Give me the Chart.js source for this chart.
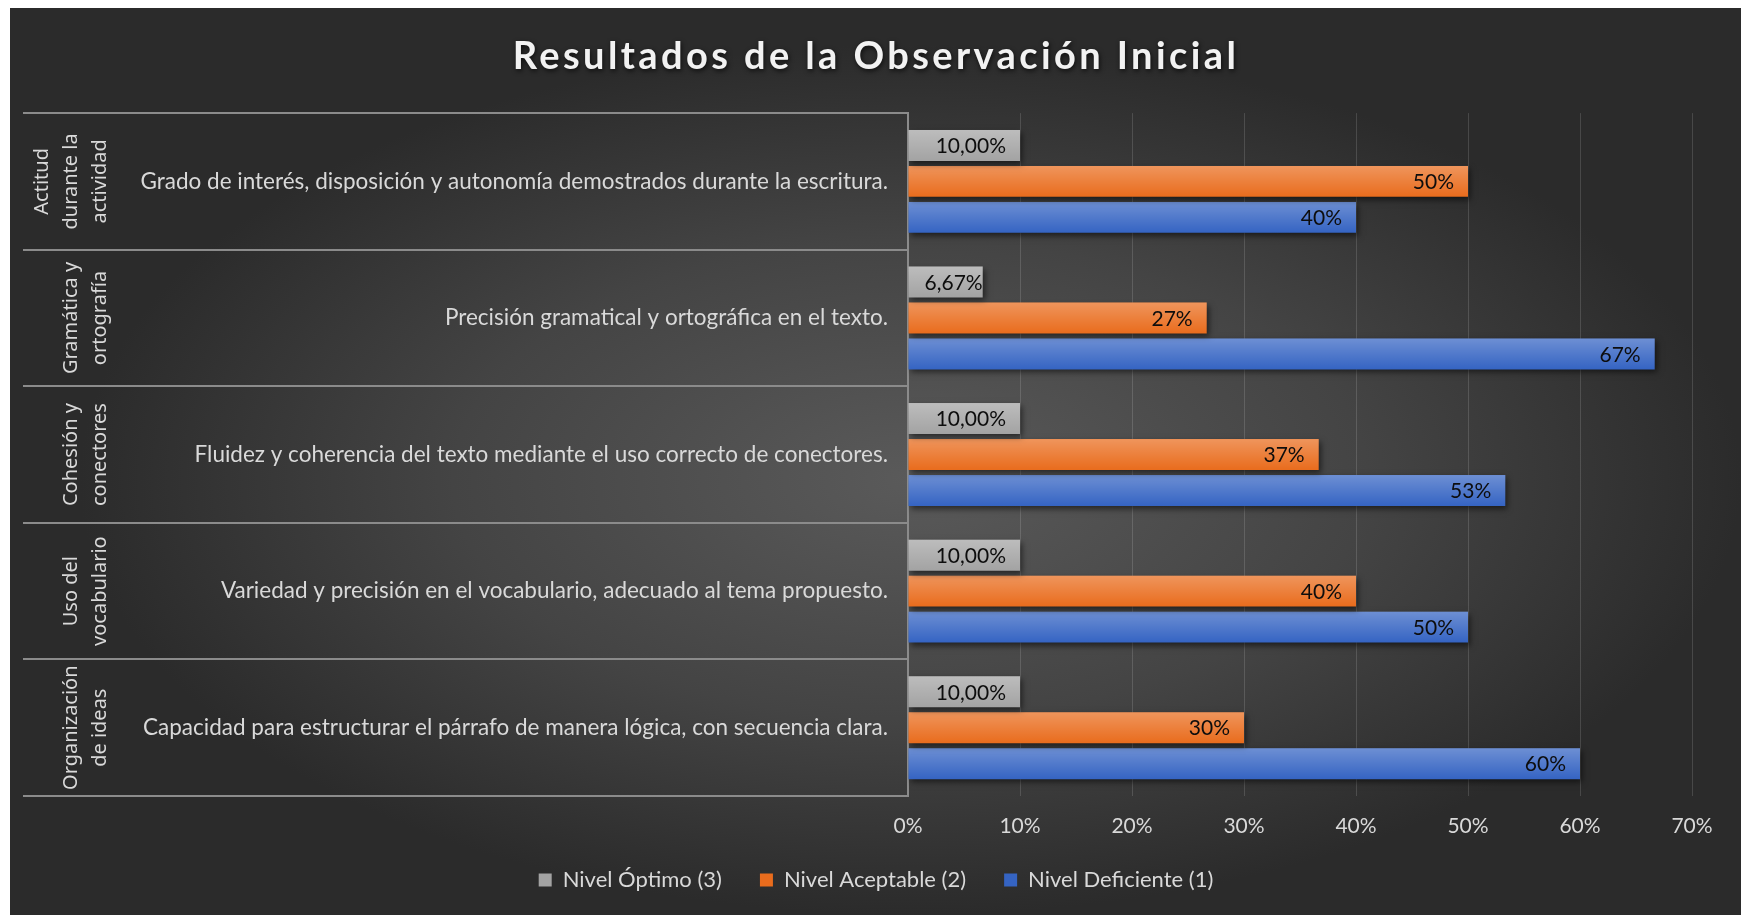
<!DOCTYPE html>
<html lang="es">
<head>
<meta charset="utf-8">
<title>Resultados de la Observación Inicial</title>
<script src="https://cdn.jsdelivr.net/npm/chart.js@4.4.1/dist/chart.umd.min.js"></script>
<style>
  html, body { margin: 0; padding: 0; background: #ffffff; }
  #wrap { position: relative; width: 1741px; height: 915px; overflow: hidden; }
  #bg {
    position: absolute; left: 10px; top: 8px; right: 0; bottom: 0;
    background: radial-gradient(ellipse closest-side at 52% 52%, #5a5a5a 0%, #444444 55%, #2b2b2b 100%);
  }
  #chart { position: absolute; left: 0; top: 0; }
</style>
</head>
<body>
<div id="wrap">
  <div id="bg"></div>
  <canvas id="chart" width="1741" height="915"></canvas>
</div>
<script>
// criterios (nivel interno del eje) y dimensiones (nivel externo)
const criterios = [
  "Grado de interés, disposición y autonomía demostrados durante la escritura.",
  "Precisión gramatical y ortográfica en el texto.",
  "Fluidez y coherencia del texto mediante el uso correcto de conectores.",
  "Variedad y precisión en el vocabulario, adecuado al tema propuesto.",
  "Capacidad para estructurar el párrafo de manera lógica, con secuencia clara.",
];
const dimensiones = [
  ["Actitud", "durante la", "actividad"],
  ["Gramática y", "ortografía"],
  ["Cohesión y", "conectores"],
  ["Uso del", "vocabulario"],
  ["Organización", "de ideas"],
];

const seriesNames = ["Nivel Óptimo (3)", "Nivel Aceptable (2)", "Nivel Deficiente (1)"];
const nivelOptimo = [10, 6.67, 10, 10, 10];
const nivelAceptable = [50, 26.67, 36.67, 40, 30];
const nivelDeficiente = [40, 66.67, 53.33, 50, 60];

const xMin = 0;
const xMax = 70;
const xStep = 10;

const colors = ["#a3a3a3", "#e96c1d", "#3564c3"];
const textColor = "#d9d9d9";

const formatLabel = [
  (v) => v.toFixed(2).replace(".", ",") + "%",
  (v) => Math.round(v) + "%",
  (v) => Math.round(v) + "%",
];

Chart.defaults.font.family = "Lato, 'Open Sans', sans-serif";
Chart.defaults.color = textColor;

// title with letter spacing and a soft shadow
const titleStyle = {
  id: "titleStyle",
  beforeDraw(chart) {
    const box = chart.titleBlock;
    if (!box || box._styled) return;
    const plainDraw = box.draw.bind(box);
    box.draw = (area) => {
      const ctx = chart.ctx;
      ctx.save();
      ctx.letterSpacing = "3.4px";
      ctx.shadowColor = "rgba(0,0,0,0.7)";
      ctx.shadowBlur = 5;
      ctx.shadowOffsetX = 1;
      ctx.shadowOffsetY = 2;
      plainDraw(area);
      ctx.restore();
    };
    box._styled = true;
  },
};

// outer level of the category axis: separators and rotated group names
const groupAxis = {
  id: "groupAxis",
  beforeDatasetsDraw(chart) {
    const { ctx, chartArea, scales: { y } } = chart;
    const step = y.getPixelForValue(1) - y.getPixelForValue(0);
    ctx.save();
    ctx.strokeStyle = "#8b8b8b";
    ctx.lineWidth = 2;
    for (let i = 0; i <= criterios.length; i++) {
      const py = Math.round(y.getPixelForValue(i) - step / 2);
      ctx.beginPath();
      ctx.moveTo(23, py);
      ctx.lineTo(chartArea.left, py);
      ctx.stroke();
    }
    ctx.fillStyle = textColor;
    ctx.font = "20px 'Noto Sans'";
    ctx.textAlign = "center";
    ctx.textBaseline = "middle";
    dimensiones.forEach((lines, i) => {
      const cy = y.getPixelForValue(i);
      lines.forEach((line, k) => {
        const cx = 100 - (lines.length - 1 - k) * 29;
        ctx.save();
        ctx.translate(cx, cy);
        ctx.rotate(-Math.PI / 2);
        ctx.fillText(line, 0, 0);
        ctx.restore();
      });
    });
    ctx.restore();
  },
};

// drop shadow + light top gradient on every bar
const barShading = {
  id: "barShading",
  beforeDatasetDraw(chart) {
    const ctx = chart.ctx;
    ctx.save();
    ctx.shadowColor = "rgba(0,0,0,0.55)";
    ctx.shadowBlur = 6;
    ctx.shadowOffsetX = 2;
    ctx.shadowOffsetY = 3;
  },
  afterDatasetDraw(chart, args) {
    const ctx = chart.ctx;
    ctx.restore();
    ctx.save();
    args.meta.data.forEach((bar) => {
      const top = bar.y - bar.height / 2;
      const g = ctx.createLinearGradient(0, top, 0, top + bar.height);
      g.addColorStop(0, "rgba(255,255,255,0.28)");
      g.addColorStop(1, "rgba(255,255,255,0)");
      ctx.fillStyle = g;
      ctx.fillRect(Math.min(bar.base, bar.x), top, Math.abs(bar.x - bar.base), bar.height);
    });
    ctx.restore();
  },
};

// value labels at the inner end of each bar
const barLabels = {
  id: "barLabels",
  afterDatasetsDraw(chart) {
    const ctx = chart.ctx;
    const pad = 14;
    ctx.save();
    ctx.font = "21px Lato";
    ctx.fillStyle = "#0d0d0d";
    ctx.textAlign = "right";
    ctx.textBaseline = "middle";
    chart.data.datasets.forEach((ds, di) => {
      chart.getDatasetMeta(di).data.forEach((bar, i) => {
        const text = formatLabel[di](ds.data[i]);
        const room = Math.abs(bar.x - bar.base) - ctx.measureText(text).width;
        ctx.fillText(text, bar.x - (room >= 2 * pad ? pad : 0), bar.y + 1);
      });
    });
    ctx.restore();
  },
};

const datasets = [nivelOptimo, nivelAceptable, nivelDeficiente].map((values, i) => ({
  label: seriesNames[i],
  data: values,
  backgroundColor: colors[i],
  borderWidth: 0,
  categoryPercentage: 0.79,
  barPercentage: 0.86,
}));

new Chart(document.getElementById("chart"), {
  type: "bar",
  data: { labels: criterios, datasets },
  options: {
    indexAxis: "y",
    responsive: false,
    animation: false,
    devicePixelRatio: 1,
    layout: { padding: { left: 60, right: 49, top: 8, bottom: 14 } },
    scales: {
      x: {
        min: xMin,
        max: xMax,
        ticks: {
          stepSize: xStep,
          padding: 18,
          color: textColor,
          font: { size: 21 },
          callback: (v) => v + "%",
        },
        grid: { color: "rgba(255,255,255,0.14)", lineWidth: 1, drawTicks: false },
        border: { display: false },
        afterFit: (scale) => { scale.height = 50; },
      },
      y: {
        ticks: {
          autoSkip: false,
          padding: 20,
          color: textColor,
          font: { size: 22.5 },
        },
        grid: { display: false, drawTicks: false },
        border: { display: true, color: "#8b8b8b", width: 2 },
        afterFit: (scale) => { scale.width = 848; },
      },
    },
    plugins: {
      title: {
        display: true,
        text: "Resultados de la Observación Inicial",
        color: "#f2f2f2",
        font: { size: 38, weight: "bold" },
        padding: { top: 26, bottom: 33.5 },
      },
      legend: {
        position: "bottom",
        // empty legend title with negative padding pulls the row up
        title: { display: true, text: "", font: { size: 10, lineHeight: 1 }, padding: { top: -25, bottom: 0 } },
        labels: {
          boxWidth: 13,
          boxHeight: 13,
          padding: 38,
          color: textColor,
          font: { size: 22 },
        },
      },
      tooltip: { enabled: false },
    },
  },
  plugins: [titleStyle, groupAxis, barShading, barLabels],
});
</script>
</body>
</html>
